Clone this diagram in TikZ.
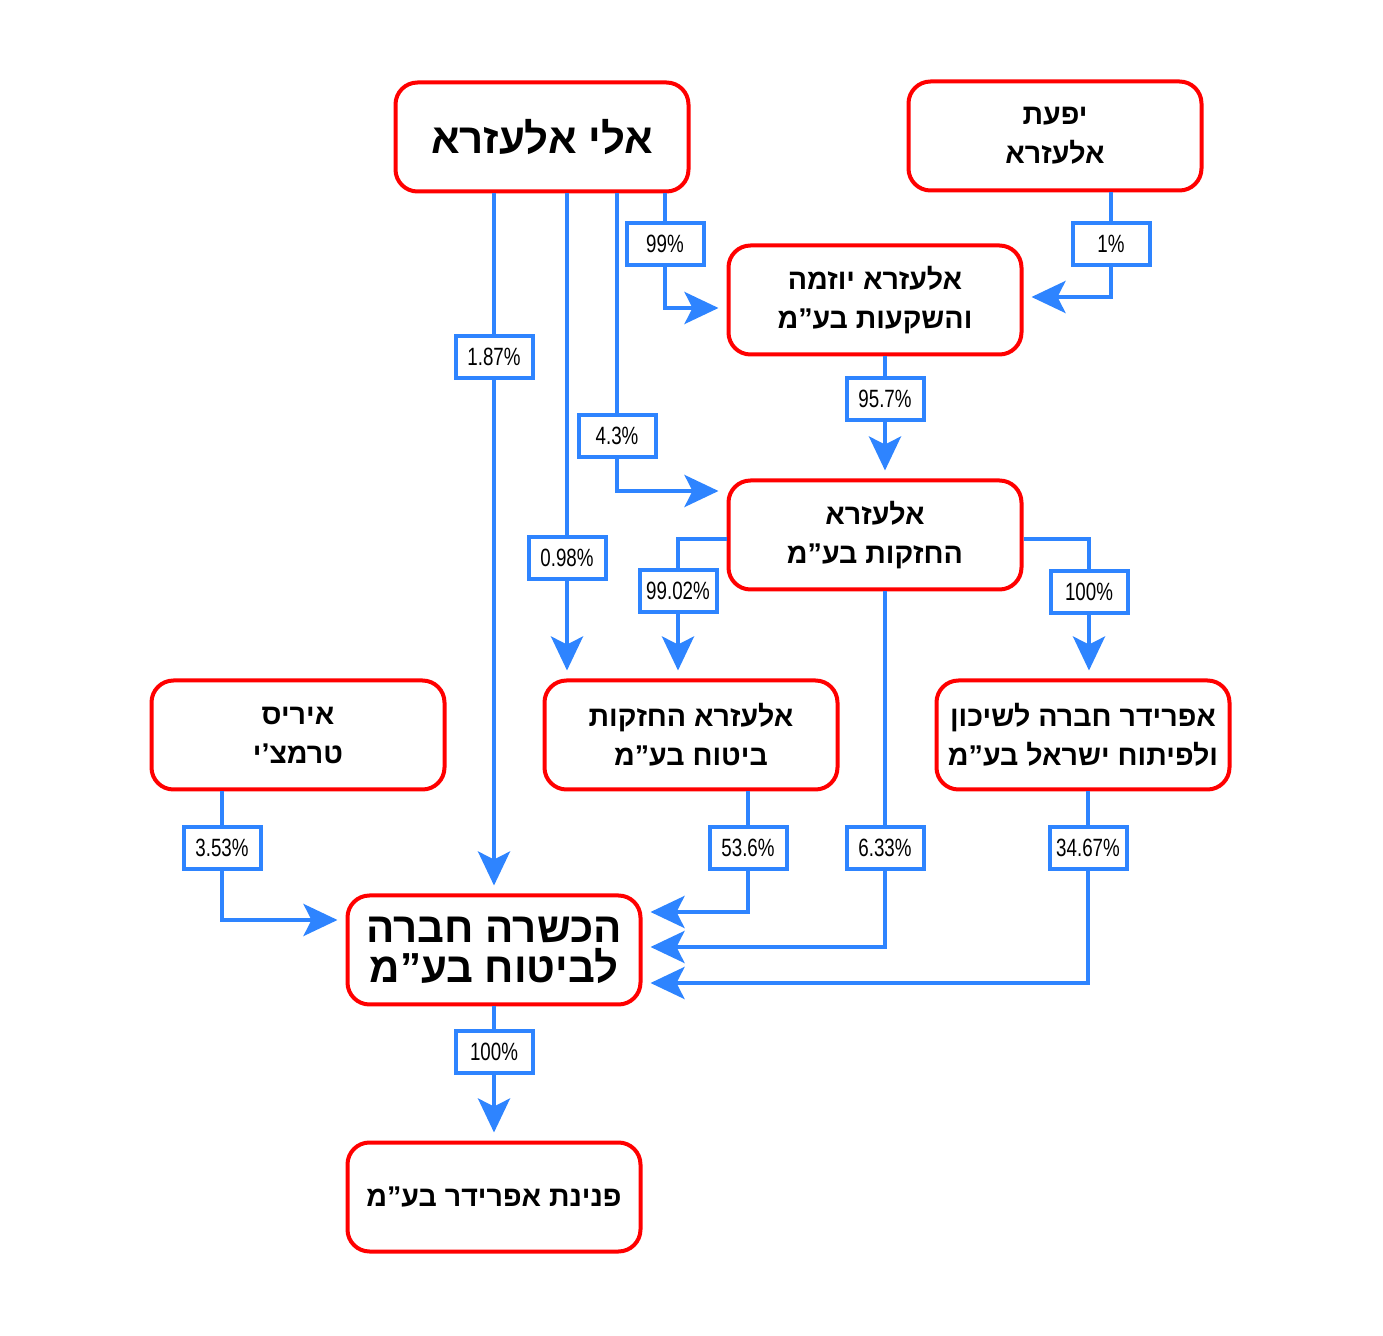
\documentclass[tikz,border=0pt]{standalone}
\usepackage{fontspec}
\usetikzlibrary{arrows.meta}
\TeXXeTstate=1
\newfontfamily\hebfont[Script=Hebrew]{Liberation Sans}
\newfontfamily\pctfont[FakeStretch=0.75]{Liberation Sans}
\definecolor{flowblue}{RGB}{46,132,255}
\definecolor{boxred}{RGB}{255,0,0}

\begin{document}
\begin{tikzpicture}[x=0.5pt,y=-0.5pt,
  company/.style={draw=boxred,line width=2pt,rounded corners=11pt,minimum width=146.5pt,minimum height=54.5pt,align=center,font=\hebfont\bfseries\fontsize{14.3}{19.5}\selectfont},
  bigcompany/.style={company,font=\hebfont\bfseries\fontsize{21}{20}\selectfont},
  pct/.style={draw=flowblue,line width=2pt,fill=white,minimum width=38.5pt,minimum height=21pt,inner sep=0pt,font=\pctfont\fontsize{12.5}{14}\selectfont},
  link/.style={draw=flowblue,line width=2pt},
  flow/.style={link,-{Stealth[length=17pt,width=16pt,inset=4pt]},shorten >=4pt}]
\useasboundingbox (0,0) rectangle (1383,1336);

% companies
\node[bigcompany] (eli) at (542,137) {\beginR אלי אלעזרא\endR};
\node[company] (yifat) at (1055,136) {\beginR יפעת\endR\\\beginR אלעזרא\endR};
\node[company] (yozma) at (875,300) {\beginR אלעזרא יוזמה\endR\\\beginR והשקעות בע”מ\endR};
\node[company] (hold) at (875,535) {\beginR אלעזרא\endR\\\beginR החזקות בע”מ\endR};
\node[company] (iris) at (298,735) {\beginR איריס\endR\\\beginR טרמצ’י\endR};
\node[company] (insur) at (691,735) {\beginR אלעזרא החזקות\endR\\\beginR ביטוח בע”מ\endR};
\node[company] (afridar) at (1083,735) {\beginR אפרידר חברה לשיכון\endR\\\beginR ולפיתוח ישראל בע”מ\endR};
\node[bigcompany] (hachshara) at (494,950) {\beginR הכשרה חברה\endR\\\beginR לביטוח בע”מ\endR};
\node[company] (pninat) at (494,1197) {\beginR פנינת אפרידר בע”מ\endR};

% holdings
\node[pct] (p99) at (665,244) {99\%};
\node[pct] (p1) at (1111,244) {1\%};
\node[pct] (p187) at (494,357) {1.87\%};
\node[pct] (p43) at (617,436) {4.3\%};
\node[pct] (p957) at (885,399) {95.7\%};
\node[pct] (p098) at (567,558) {0.98\%};
\node[pct] (p9902) at (678,591) {99.02\%};
\node[pct] (p100a) at (1089,592) {100\%};
\node[pct] (p353) at (222,848) {3.53\%};
\node[pct] (p536) at (748,848) {53.6\%};
\node[pct] (p633) at (885,848) {6.33\%};
\node[pct] (p3467) at (1088,848) {34.67\%};
\node[pct] (p100b) at (494,1052) {100\%};

\draw[link] (eli.south -| p187) -- (p187.north);
\draw[flow] (p187.south) -- (hachshara.north -| p187);
\draw[link] (eli.south -| p098) -- (p098.north);
\draw[flow] (p098.south) -- (insur.north -| p098);
\draw[link] (eli.south -| p43) -- (p43.north);
\draw[flow] (p43.south) |- ([yshift=22pt]hold.west);
\draw[link] (eli.south -| p99) -- (p99.north);
\draw[flow] (p99.south) |- ([yshift=-4pt]yozma.west);
\draw[link] (yifat.south -| p1) -- (p1.north);
\draw[flow] (p1.south) |- ([yshift=1.5pt]yozma.east);

\draw[link] (yozma.south -| p957) -- (p957.north);
\draw[flow] (p957.south) -- (hold.north -| p957);
\draw[link] ([yshift=-2pt]hold.west) -| (p9902.north);
\draw[flow] (p9902.south) -- (insur.north -| p9902);
\draw[link] ([yshift=-2pt]hold.east) -| (p100a.north);
\draw[flow] (p100a.south) -- (afridar.north -| p100a);
\draw[link] (hold.south -| p633) -- (p633.north);
\draw[flow] (p633.south) |- ([yshift=1.5pt]hachshara.east);

\draw[link] (iris.south -| p353) -- (p353.north);
\draw[flow] (p353.south) |- ([yshift=15pt]hachshara.west);
\draw[link] (insur.south -| p536) -- (p536.north);
\draw[flow] (p536.south) |- ([yshift=19pt]hachshara.east);
\draw[link] (afridar.south -| p3467) -- (p3467.north);
\draw[flow] (p3467.south) |- ([yshift=-16.5pt]hachshara.east);

\draw[link] (hachshara.south) -- (p100b.north);
\draw[flow] (p100b.south) -- (pninat.north);
\end{tikzpicture}
\end{document}
